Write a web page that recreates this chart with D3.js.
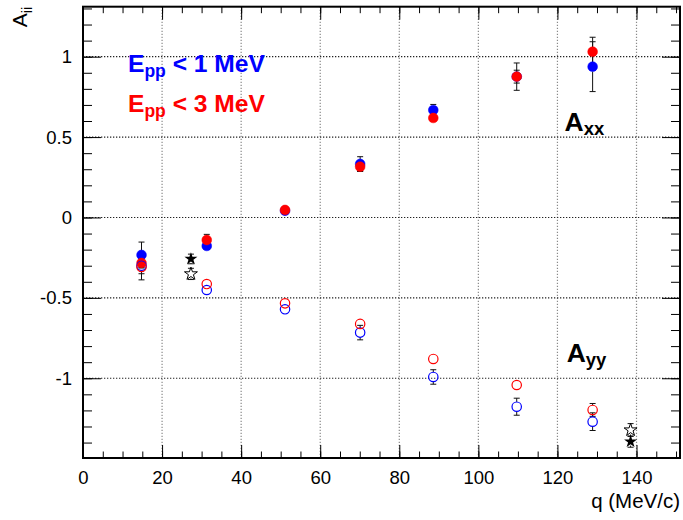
<!DOCTYPE html>
<html><head><meta charset="utf-8">
<script src="https://cdn.jsdelivr.net/npm/d3@7/dist/d3.min.js"></script>
<style>
body{margin:0;background:#fff;}
svg{display:block;font-family:"Liberation Sans",Arial,Helvetica,sans-serif;}
</style></head>
<body><svg id="c" width="683" height="520"></svg>
<script>
// ---- data ----
const qPoints = [14.8, 31.3, 51.1, 70.1, 88.6, 109.7, 128.9];
const axx1 = [-0.233, -0.177, 0.042, 0.333, 0.668, 0.876, 0.938];
const axx1Err = [0.08, 0.02, 0.02, 0.045, 0.035, 0.085, 0.155];
const axx3 = [-0.283, -0.140, 0.047, 0.316, 0.619, 0.876, 1.031];
const axx3Err = [0.03, 0.035, 0.015, 0.03, 0.015, 0.04, 0.09];
const ayy1 = [-0.300, -0.451, -0.571, -0.716, -0.992, -1.177, -1.270];
const ayy1Err = [0.05, 0.02, 0.015, 0.045, 0.045, 0.053, 0.055];
const ayy3 = [-0.308, -0.414, -0.534, -0.662, -0.880, -1.042, -1.197];
const ayy3Err = [0.08, 0.015, 0.015, 0.015, 0.015, 0.025, 0.04];
const qStars = [27.3, 138.5];
const starFilled = [-0.258, -1.394];
const starFilledErr = [0.03, 0.035];
const starOpen = [-0.351, -1.322];
const starOpenErr = [0.035, 0.04];
const xTickLabels = [0, 20, 40, 60, 80, 100, 120, 140];
const yTickLabels = [-1, -0.5, 0, 0.5, 1];

const svg = d3.select("#c");
const L = 83, R = 680, T = 6.7, B = 458;
const x = d3.scaleLinear().domain([0, 151]).range([L, R]);
const y = d3.scaleLinear().domain([-1.496, 1.311]).range([B, T]);

const xMinor = d3.range(0, 151, 5);
const yMinor = d3.range(-14, 14).map(v => v / 10);

// grid
svg.append("g").selectAll("line").data(xTickLabels.filter(v => v > 0)).join("line")
  .attr("x1", d => x(d)).attr("x2", d => x(d)).attr("y1", T).attr("y2", B)
  .attr("stroke", "#8a8a8a").attr("stroke-width", 1.2).attr("stroke-dasharray", "1.3,1.7");
svg.append("g").selectAll("line").data(yTickLabels).join("line")
  .attr("y1", d => y(d)).attr("y2", d => y(d)).attr("x1", L).attr("x2", R)
  .attr("stroke", "#222").attr("stroke-width", 1.2).attr("stroke-dasharray", "1.3,1.7");

function styleAxis(g, fs) {
  g.select(".domain").remove();
  g.selectAll("line").attr("stroke", "#000").attr("stroke-width", 1);
  g.selectAll("text").attr("font-size", fs).attr("fill", "#000")
    .attr("font-family", "'Liberation Sans',Arial,Helvetica,sans-serif");
}
const fmt = d => String(d);
// bottom
svg.append("g").attr("transform", `translate(0,${B})`)
  .call(d3.axisBottom(x).tickValues(xTickLabels).tickSize(-13).tickPadding(13).tickFormat(fmt))
  .call(g => styleAxis(g, 18.5));
svg.append("g").attr("transform", `translate(0,${B})`)
  .call(d3.axisBottom(x).tickValues(xMinor).tickSize(-6.5).tickFormat(""))
  .call(g => styleAxis(g, 18));
// top
svg.append("g").attr("transform", `translate(0,${T})`)
  .call(d3.axisTop(x).tickValues(xTickLabels).tickSize(-13).tickFormat(""))
  .call(g => styleAxis(g, 18));
svg.append("g").attr("transform", `translate(0,${T})`)
  .call(d3.axisTop(x).tickValues(xMinor).tickSize(-6.5).tickFormat(""))
  .call(g => styleAxis(g, 18));
// left
svg.append("g").attr("transform", `translate(${L},0)`)
  .call(d3.axisLeft(y).tickValues(yTickLabels).tickSize(-18).tickPadding(11).tickFormat(fmt))
  .call(g => styleAxis(g, 18.5));
svg.append("g").attr("transform", `translate(${L},0)`)
  .call(d3.axisLeft(y).tickValues(yMinor).tickSize(-9).tickFormat(""))
  .call(g => styleAxis(g, 18));
// right
svg.append("g").attr("transform", `translate(${R},0)`)
  .call(d3.axisRight(y).tickValues(yTickLabels).tickSize(-18).tickFormat(""))
  .call(g => styleAxis(g, 18));
svg.append("g").attr("transform", `translate(${R},0)`)
  .call(d3.axisRight(y).tickValues(yMinor).tickSize(-9).tickFormat(""))
  .call(g => styleAxis(g, 18));

// frame
svg.append("rect").attr("x", L).attr("y", T).attr("width", R - L).attr("height", B - T)
  .attr("fill", "none").attr("stroke", "#000").attr("stroke-width", 2);

// error bars (stop at the marker edge, like ROOT; hidden when shorter than the marker)
function errBars(qs, vals, errs, gap) {
  const g = svg.append("g").attr("stroke", "#111").attr("stroke-width", 1);
  qs.forEach((q, i) => {
    const cx = x(q), cy = y(vals[i]);
    const y1 = y(vals[i] + errs[i]), y2 = y(vals[i] - errs[i]);
    if (cy - y1 <= gap) return;
    g.append("line").attr("x1", cx).attr("x2", cx).attr("y1", y1).attr("y2", cy - gap);
    g.append("line").attr("x1", cx).attr("x2", cx).attr("y1", cy + gap).attr("y2", y2);
    g.append("line").attr("x1", cx - 3).attr("x2", cx + 3).attr("y1", y1).attr("y2", y1);
    g.append("line").attr("x1", cx - 3).attr("x2", cx + 3).attr("y1", y2).attr("y2", y2);
  });
}
errBars(qPoints, axx1, axx1Err, 4.8);
errBars(qPoints, axx3, axx3Err, 4.8);
errBars(qPoints, ayy1, ayy1Err, 4.8);
errBars(qPoints, ayy3, ayy3Err, 4.8);
errBars(qStars, starFilled, starFilledErr, 4);
errBars(qStars, starOpen, starOpenErr, 4.5);

function circles(vals, color, filled) {
  svg.append("g").selectAll("circle").data(vals).join("circle")
    .attr("cx", (d, i) => x(qPoints[i])).attr("cy", d => y(d))
    .attr("r", filled ? 4.9 : 4.7)
    .attr("fill", filled ? color : "none")
    .attr("stroke", color).attr("stroke-width", filled ? 0.5 : 1.2);
}
circles(axx1, "#0000ff", true);
circles(axx3, "#ff0000", true);
circles(ayy1, "#0000ff", false);
circles(ayy3, "#ff0000", false);

const star = d3.symbol().type(d3.symbolStar).size(52);
svg.append("g").selectAll("path").data(starFilled).join("path")
  .attr("d", star).attr("transform", (d, i) => `translate(${x(qStars[i])},${y(d)})`)
  .attr("fill", "#000");
svg.append("g").selectAll("path").data(starOpen).join("path")
  .attr("d", star).attr("transform", (d, i) => `translate(${x(qStars[i])},${y(d)})`)
  .attr("fill", "#fff").attr("stroke", "#000").attr("stroke-width", 1);

// legend texts
function subText(xp, yp, main, sub, rest, color, fs, subFs, subDy) {
  const t = svg.append("text").attr("x", xp).attr("y", yp).attr("fill", color)
    .attr("font-weight", "bold").attr("font-size", fs);
  t.append("tspan").text(main);
  t.append("tspan").attr("font-size", subFs).attr("dy", subDy).text(sub);
  if (rest) t.append("tspan").attr("dy", -subDy).text(rest);
}
subText(128, 71.7, "E", "pp", " < 1 MeV", "#0000ff", 24.6, 17.5, 5);
subText(128, 111.7, "E", "pp", " < 3 MeV", "#ff0000", 24.6, 17.5, 5);
subText(564.5, 130.7, "A", "xx", null, "#000", 26.5, 18.5, 4.5);
subText(566.7, 361.7, "A", "yy", null, "#000", 26.5, 18.5, 4.5);

// axis titles
svg.append("text").attr("x", 680).attr("y", 508).attr("text-anchor", "end")
  .attr("font-size", 20.5).text("q (MeV/c)");
const yt = svg.append("text").attr("transform", "translate(27,7) rotate(-90)")
  .attr("text-anchor", "end").attr("font-size", 21);
yt.append("tspan").text("A");
yt.append("tspan").attr("font-size", 14).attr("dy", 5).text("ii");
</script></body></html>
